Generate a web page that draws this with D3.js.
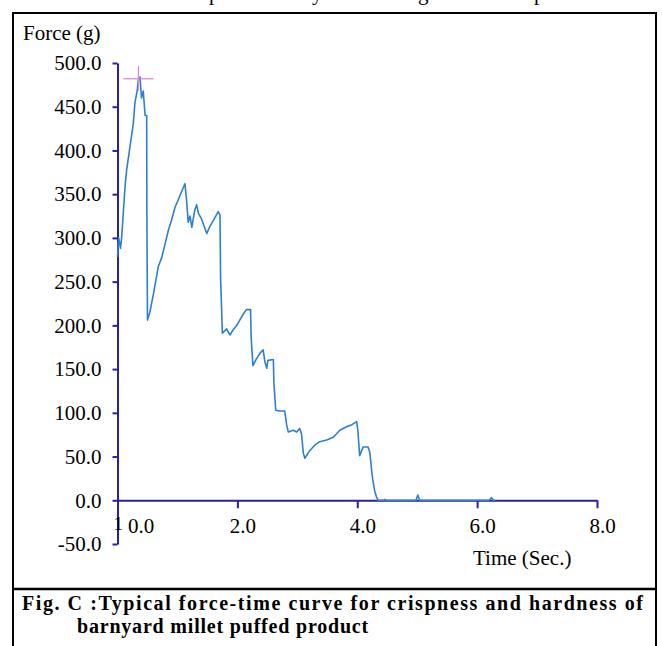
<!DOCTYPE html>
<html>
<head>
<meta charset="utf-8">
<script src="https://cdn.jsdelivr.net/npm/d3@7"></script>
<style>
  body { margin: 0; background: #fff; }
  svg text { font-family: "Liberation Serif", "Times New Roman", serif; }
</style>
</head>
<body>
<div id="chart"></div>
<script>
// force-time curve
var timeSec = [0.00, 0.02, 0.05, 0.07, 0.10, 0.125, 0.153, 0.208, 0.264, 0.29, 0.33, 0.347, 0.375, 0.40, 0.43, 0.46, 0.487,
               0.49, 0.50, 0.54, 0.60, 0.68, 0.74, 0.79, 0.85, 0.90, 0.96, 1.01, 1.07, 1.125, 1.15, 1.18, 1.21, 1.24, 1.29,
               1.32, 1.35, 1.40, 1.49, 1.54, 1.60, 1.68, 1.71, 1.72, 1.75, 1.82, 1.875, 1.93, 1.99, 2.04, 2.10, 2.15, 2.22,
               2.23, 2.26, 2.32, 2.375, 2.43, 2.46, 2.49, 2.51, 2.60, 2.61, 2.64, 2.71, 2.79, 2.82, 2.85, 2.93, 2.99, 3.04,
               3.07, 3.10, 3.125, 3.21, 3.29, 3.375, 3.49, 3.60, 3.71, 3.82, 3.90, 3.99, 4.01, 4.04, 4.10, 4.18, 4.21, 4.24,
               4.26, 4.29, 4.32, 4.35, 4.45, 4.46, 4.48, 4.98, 5.01, 5.04, 6.20, 6.24, 6.27, 6.30];
var forceG  = [278, 300, 288, 301, 332, 358, 378, 404, 431, 454, 469, 481, 484, 460, 468, 440, 440,
               330, 206, 215, 236, 267, 278, 292, 309, 320, 335, 343, 353, 362, 345, 318, 325, 312, 332,
               338, 328, 322, 305, 313, 320, 330, 326, 254, 191, 196, 189, 195, 200, 206, 213, 218, 218,
               186, 154, 162, 168, 172, 158, 151, 160, 161, 133, 103, 102, 102, 87, 78, 80, 78, 82,
               76, 54, 48, 57, 63, 67, 69, 72, 80, 84, 86, 90, 80, 51, 61, 61, 55, 34,
               23, 11, 4, 0, 0, 1, 0, 0, 6, 0, 0, 3, 0, 0];

var xTicks = [0, 2, 4, 6, 8];
var yTicks = [-50, 0, 50, 100, 150, 200, 250, 300, 350, 400, 450, 500];
var peakMark = {t: 0.35, f: 482};

var yLabel = "Force (g)";
var xLabel = "Time (Sec.)";
var caption1 = "Fig. C :Typical force-time curve for crispness and hardness of";
var caption2 = "barnyard millet puffed product";

var width = 662, height = 646;
var axisColor = "#2a1fa8";
var lineColor = "#2d7fd3";

var fmt = function(d) { return d.toFixed(1); };  // plain hyphen for -50.0

var svg = d3.select("#chart").append("svg")
  .attr("width", width)
  .attr("height", height);

// cropped line of the text above the figure (only descenders show)
var topBits = [["p", 209], ["y", 312], ["g", 418], ["p", 534]];
svg.selectAll(".topbit")
  .data(topBits)
  .enter().append("text")
  .attr("class", "topbit")
  .attr("x", function(d) { return d[1]; })
  .attr("y", 0)
  .style("font-size", "21px")
  .text(function(d) { return d[0]; });

// frame + caption separator
svg.append("rect")
  .attr("x", 13).attr("y", 13)
  .attr("width", 643).attr("height", 650)
  .attr("fill", "none")
  .attr("stroke", "#000")
  .attr("stroke-width", 2);
svg.append("line")
  .attr("x1", 13).attr("x2", 656)
  .attr("y1", 589).attr("y2", 589)
  .attr("stroke", "#000")
  .attr("stroke-width", 2.5);

var x = d3.scaleLinear().domain([0, 8]).range([117.5, 597]);
var y = d3.scaleLinear().domain([-50, 500]).range([544, 63]);

// y axis
var gy = svg.append("g")
  .attr("transform", "translate(" + x(0) + ",0)")
  .call(d3.axisLeft(y).tickValues(yTicks).tickSize(5).tickPadding(11).tickSizeOuter(0)
        .tickFormat(fmt));

// x axis
var gx = svg.append("g")
  .attr("transform", "translate(0," + y(0) + ")")
  .call(d3.axisBottom(x).tickValues(xTicks).tickSize(8).tickPadding(10).tickSizeOuter(0)
        .tickFormat(fmt));

gx.selectAll(".tick text").attr("dx", function(d) { return d === 0 ? 23 : 5; });
gx.selectAll(".tick").filter(function(d) { return d === 0; }).select("line").remove();

[gx, gy].forEach(function(g) {
  g.selectAll(".domain, .tick line").attr("stroke", axisColor).attr("stroke-width", 2);
  g.selectAll(".tick text").attr("fill", "#000").style("font-size", "21px")
    .style("font-family", "'Liberation Serif', serif");
});

// stray glyph left of the 0.0 time label
svg.append("text")
  .attr("x", x(0) - 4).attr("y", 530)
  .style("font-size", "19px")
  .text("1");

// axis titles
svg.append("text")
  .attr("x", 23).attr("y", 40)
  .style("font-size", "21px")
  .text(yLabel);
svg.append("text")
  .attr("x", 473).attr("y", 565)
  .style("font-size", "21px")
  .text(xLabel);

// curve
var pts = timeSec.map(function(t, i) { return [t, forceG[i]]; });
var line = d3.line()
  .x(function(d) { return x(d[0]); })
  .y(function(d) { return y(d[1]); });

svg.append("path")
  .datum(pts)
  .attr("d", line)
  .attr("fill", "none")
  .attr("stroke", lineColor)
  .attr("stroke-width", 1.6)
  .attr("stroke-linejoin", "round");

// peak marker cross
var cx = x(peakMark.t), cy = y(peakMark.f);
svg.append("line")
  .attr("x1", cx - 15).attr("x2", cx + 15)
  .attr("y1", cy).attr("y2", cy)
  .attr("stroke", "#d78ad8").attr("stroke-width", 1.3);
svg.append("line")
  .attr("x1", cx).attr("x2", cx)
  .attr("y1", cy - 13).attr("y2", cy + 12)
  .attr("stroke", "#d78ad8").attr("stroke-width", 1.3);

// caption
svg.append("text")
  .attr("x", 22).attr("y", 610)
  .attr("textLength", 621)
  .attr("lengthAdjust", "spacing")
  .style("font-size", "20px")
  .style("font-weight", "bold")
  .text(caption1);
svg.append("text")
  .attr("x", 77).attr("y", 633)
  .style("font-size", "20px")
  .style("font-weight", "bold")
  .style("letter-spacing", "0.8px")
  .text(caption2);
</script>
</body>
</html>
